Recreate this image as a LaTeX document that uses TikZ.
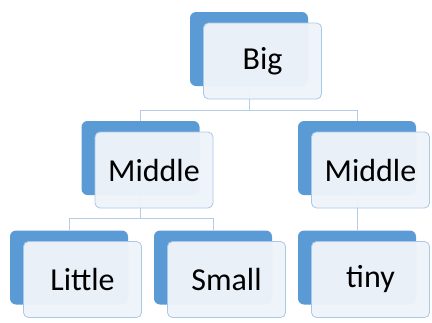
\documentclass[tikz,border=0pt]{standalone}
\usepackage{fontspec}
\setmainfont{Carlito}
\usepackage{xcolor}
\usetikzlibrary{positioning, calc}
\definecolor{accblue}{HTML}{5B9BD5}
\definecolor{paleblue}{HTML}{EEF3FA}
\definecolor{rimblue}{HTML}{A9C8E8}
\definecolor{linkblue}{HTML}{B7CCE6}

\begin{document}
\begin{tikzpicture}[x=1pt, y=-1pt, font=\fontsize{32}{37}\selectfont,
    back/.style ={fill=accblue, draw=none, rounded corners=6pt, minimum width=118pt, minimum height=74pt, inner sep=0pt},
    front/.style={fill=paleblue, fill opacity=0.97, text opacity=1, draw=rimblue, line width=0.8pt, rounded corners=5pt, minimum width=118pt, minimum height=76pt, inner sep=0pt},
    link/.style ={draw=linkblue, line width=0.8pt}]
    \useasboundingbox (0,0) rectangle (432,322);
    % back tiles
    \node[back] (bigb)   at (249,49)    {};
    \node[back] (midlb)  at (140.5,158) {};
    \node[back] (midrb)  at (357,158)   {};
    \node[back] (littleb) at (69,267.5) {};
    \node[back] (smallb) at (213,267.5) {};
    \node[back] (tinyb)  at (357,267.5) {};
    % connectors
    \draw[link] (bigb.south) -- ++(0,24) -| (midlb.north);
    \draw[link] (bigb.south) -- ++(0,24) -| (midrb.north);
    \draw[link] (midlb.south) -- ++(0,23) -| (littleb.north);
    \draw[link] (midlb.south) -- ++(0,23) -| (smallb.north);
    \draw[link] (midrb.south) -- (tinyb.north);
    % front tiles
    \node[front] (big)    at ([xshift=13.5pt,yshift=-12pt]bigb.center)    {Big};
    \node[front] (midl)   at ([xshift=13.5pt,yshift=-12pt]midlb.center)   {Middle};
    \node[front] (midr)   at ([xshift=13.5pt,yshift=-12pt]midrb.center)   {Middle};
    \node[front] (little) at ([xshift=13.5pt,yshift=-12pt]littleb.center) {Little};
    \node[front] (small)  at ([xshift=13.5pt,yshift=-12pt]smallb.center)  {Small};
    \node[front] (tiny)   at ([xshift=13.5pt,yshift=-12pt]tinyb.center)   {tiny};
\end{tikzpicture}
\end{document}
